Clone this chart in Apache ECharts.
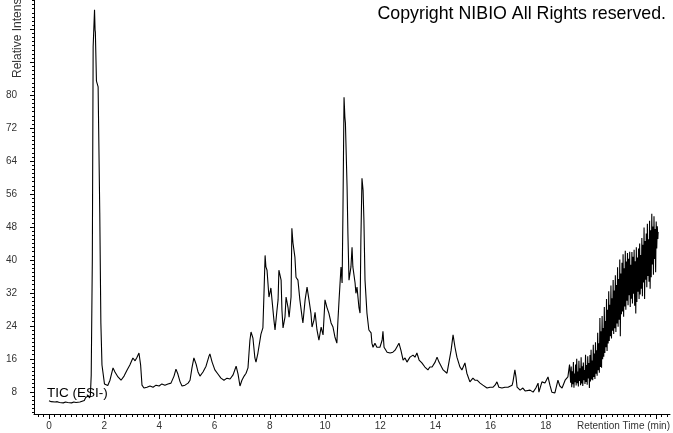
<!DOCTYPE html>
<html>
<head>
<meta charset="utf-8">
<script src="https://cdn.jsdelivr.net/npm/echarts@6/dist/echarts.min.js"></script>
<style>
html,body{margin:0;padding:0;background:#fff;}
#chart{width:673px;height:433px;}
</style>
</head>
<body>
<div id="chart"></div>
<script>
// Retention time (min)
const times = [
0.00,0.08,0.15,0.22,0.30,0.38,0.45,0.52,0.60,0.68,0.75,0.82,0.90,0.98,1.05,1.12,1.20,1.28,1.33,1.38,1.43,1.47,1.50,
1.53,1.57,1.60,1.65,1.67,1.68,1.72,1.78,1.80,1.84,1.88,1.92,2.01,2.13,2.21,2.32,2.39,2.50,2.61,2.72,2.83,2.93,3.04,3.12,3.19,3.26,3.32,3.37,
3.44,3.55,3.66,3.77,3.88,3.99,4.09,4.20,4.31,4.42,4.53,4.60,4.67,4.75,4.82,4.93,5.04,5.11,5.18,5.25,5.33,5.40,5.47,5.58,5.69,5.80,5.83,5.91,
6.01,6.12,6.23,6.34,6.45,6.56,6.67,6.78,6.85,6.92,6.99,7.07,7.14,7.21,7.25,7.28,7.32,7.39,7.46,7.50,7.57,7.68,7.75,7.79,7.83,7.86,7.90,7.97,
8.01,8.04,8.08,8.15,8.19,8.26,8.30,8.33,8.41,8.44,8.48,8.55,8.59,8.66,8.70,8.77,8.80,8.84,8.91,8.95,9.02,9.09,9.17,9.20,9.28,9.35,9.42,9.49,
9.53,9.60,9.64,9.71,9.78,9.86,9.93,10.00,10.07,10.14,10.22,10.29,10.36,10.43,10.47,10.51,10.58,10.62,10.65,10.69,10.72,10.74,10.80,10.83,10.87,
10.94,10.98,11.01,11.09,11.12,11.16,11.23,11.27,11.30,11.34,11.38,11.41,11.45,11.52,11.59,11.67,11.70,11.74,11.81,11.88,11.99,12.07,12.10,12.14,
12.25,12.36,12.46,12.54,12.61,12.68,12.75,12.83,12.90,12.97,13.08,13.19,13.26,13.33,13.41,13.51,13.62,13.73,13.80,13.88,13.99,14.06,14.13,14.17,
14.28,14.35,14.42,14.46,14.57,14.64,14.71,14.78,14.89,14.96,15.07,15.14,15.25,15.36,15.43,15.51,15.62,15.72,15.87,15.98,16.09,16.16,16.23,16.30,
16.41,16.52,16.63,16.78,16.81,16.88,16.92,16.96,17.07,17.17,17.25,17.32,17.43,17.54,17.64,17.72,17.75,17.86,17.97,18.08,18.15,18.22,18.33,18.44,
18.51,18.59,18.70,18.80,18.86,
18.90,18.92,18.94,18.96,18.98,19.00,19.02,19.04,19.06,19.08,19.10,19.12,19.14,19.16,19.18,19.20,19.22,19.24,19.26,19.28,19.30,19.32,19.34,19.36,
19.38,19.40,19.42,19.44,19.46,19.48,19.50,19.52,19.54,19.56,19.58,19.60,19.62,19.64,19.66,19.68,19.70,19.72,19.74,19.76,19.78,19.80,19.82,19.84,
19.86,19.88,19.90,19.92,19.94,19.96,19.98,20.00,20.02,20.04,20.06,20.08,20.10,20.12,20.14,20.16,20.18,20.20,20.22,20.24,20.26,20.28,20.30,20.32,
20.34,20.36,20.38,20.40,20.42,20.44,20.46,20.48,20.50,20.52,20.54,20.56,20.58,20.60,20.62,20.64,20.66,20.68,20.70,20.72,20.74,20.76,20.78,20.80,
20.82,20.84,20.86,20.88,20.90,20.92,20.94,20.96,20.98,21.00,21.02,21.04,21.06,21.08,21.10,21.12,21.14,21.16,21.18,21.20,21.22,21.24,21.26,21.28,
21.30,21.32,21.34,21.36,21.38,21.40,21.42,21.44,21.46,21.48,21.50,21.52,21.54,21.56,21.58,21.60,21.62,21.64,21.66,21.68,21.70,21.72,21.74,21.76,
21.78,21.80,21.82,21.84,21.86,21.88,21.90,21.92,21.94,21.96,21.98,22.00,22.02,22.04,22.06,22.07
];
// Relative intensity
const intensity = [
5.8,5.6,5.7,5.5,5.6,5.4,5.6,5.3,5.5,5.4,5.6,5.3,5.5,5.4,5.6,5.5,5.7,5.9,6.6,6.2,7.0,6.5,7.2,
12.0,40.0,91.7,100.7,95.8,95.3,83.4,82.0,71.8,51.4,24.6,14.5,9.9,9.5,10.8,13.8,12.8,11.6,10.8,11.8,13.3,14.5,16.2,15.5,16.4,17.4,14.5,9.6,
8.9,9.1,9.4,9.1,9.6,9.4,9.9,9.6,9.9,10.1,11.8,13.5,12.3,10.4,9.4,9.6,10.1,10.8,13.8,16.2,14.7,12.8,11.8,12.8,14.2,16.7,17.2,15.2,
13.3,12.3,11.3,10.8,11.3,11.1,12.1,14.2,12.3,9.4,10.8,11.8,12.5,13.8,17.7,20.5,22.5,21.0,16.2,15.2,17.4,22.0,23.5,31.9,41.1,38.3,37.5,31.0,
32.2,33.2,30.3,25.4,23.0,27.8,30.3,37.5,35.1,27.8,23.5,26.1,31.0,28.5,26.1,31.0,47.7,44.1,40.7,35.8,35.1,30.3,26.1,24.7,30.3,33.4,30.3,27.1,
23.7,25.4,27.3,23.0,20.5,23.7,21.8,30.3,28.5,27.1,24.7,23.7,21.3,19.8,25.4,30.3,38.3,34.4,51.4,79.5,74.7,73.2,57.7,46.5,35.1,
38.3,43.1,38.3,34.4,31.9,33.4,28.5,27.1,44.8,59.8,56.9,49.7,35.1,27.1,23.0,22.3,19.8,18.8,19.8,18.8,18.8,20.5,22.7,18.8,
17.6,17.4,17.6,18.1,17.9,19.8,18.1,15.7,16.2,15.2,16.4,16.9,16.4,17.4,15.7,15.0,14.0,13.3,14.0,14.0,15.2,16.4,15.2,15.0,
13.3,13.0,12.5,14.0,18.1,21.8,18.8,16.4,14.0,13.3,15.0,12.5,10.4,11.3,10.8,10.8,10.1,9.6,8.9,9.1,9.1,9.6,10.4,9.1,
8.9,9.1,9.1,9.6,10.4,13.3,11.6,9.1,8.4,8.9,8.2,8.4,8.4,7.9,8.9,10.1,7.9,10.4,10.1,11.6,9.6,7.9,7.7,10.8,
9.4,8.9,10.8,11.6,14.6,
10.2,14.1,9.1,13.0,9.8,15.2,9.0,12.4,10.3,14.6,9.5,16.0,10.1,12.9,9.3,15.5,10.6,13.7,9.6,16.4,10.0,14.2,9.4,15.1,
10.8,13.3,9.9,17.0,10.4,14.5,9.7,16.6,11.2,15.0,8.9,16.9,10.5,18.2,11.0,15.6,10.8,19.4,11.6,17.3,11.1,20.0,12.4,18.1,
11.9,22.3,13.2,19.8,12.6,25.9,14.0,22.7,13.8,26.4,15.9,23.5,16.5,28.6,17.4,25.2,18.8,30.5,17.9,27.9,19.7,32.4,20.3,29.1,
21.5,33.8,20.9,30.7,22.8,35.1,22.0,32.6,23.4,36.3,22.5,33.9,24.6,38.2,23.8,35.4,25.5,40.1,21.5,36.7,26.8,39.3,27.5,41.4,
26.2,38.0,28.7,42.2,27.9,39.6,30.1,41.7,29.0,40.3,31.4,42.0,28.6,38.8,30.6,41.9,29.4,40.8,31.8,42.5,28.9,39.7,27.0,43.1,
29.8,40.6,32.3,42.8,30.5,44.0,31.6,41.2,33.0,45.3,31.2,43.7,34.5,47.9,30.5,44.6,35.2,46.4,33.4,48.8,36.1,45.0,34.7,49.5,
33.0,47.2,35.8,51.2,38.9,48.1,36.4,50.6,40.2,47.5,37.0,49.3,42.8,48.2,45.1,46.8
];
// Tick labels
const xTickLabels = [0,2,4,6,8,10,12,14,16,18];
const yTickLabels = [8,16,24,32,40,48,56,64,72,80];

const X_MIN = -0.543, X_MAX = 22.5, Y_MIN = 2.6, Y_MAX = 103.1;
const seriesData = times.map((t, i) => [t, intensity[i]]);

const xMajor = [], xMinor = [], yMajor = [], yMinor = [];
for (let v = 0; v <= 22; v += 2) xMajor.push(v);
for (let k = -2; k <= 112; k++) xMinor.push(+(k * 0.2).toFixed(2));
for (let v = 8; v <= 96; v += 8) yMajor.push(v);
for (let v = 3; v <= 103; v++) yMinor.push(v);

const FONT = '"Liberation Sans", Arial, sans-serif';
const chart = echarts.init(document.getElementById('chart'), null, {renderer: 'canvas'});
chart.setOption({
  animation: false,
  backgroundColor: '#fff',
  grid: {left: 34, right: 3, top: 0, bottom: 19, containLabel: false},
  xAxis: [{
    type: 'value', min: X_MIN, max: X_MAX, position: 'bottom',
    axisLine: {show: true, onZero: false, lineStyle: {color: '#000', width: 1}},
    axisTick: {show: true, length: 5, customValues: xMajor, lineStyle: {color: '#000'}},
    axisLabel: {show: true, customValues: xTickLabels, margin: 7, color: '#333', fontSize: 10, fontFamily: FONT},
    splitLine: {show: false}
  }, {
    type: 'value', min: X_MIN, max: X_MAX, position: 'bottom',
    axisLine: {show: false, onZero: false},
    axisTick: {show: true, length: 3, customValues: xMinor, lineStyle: {color: '#000'}},
    axisLabel: {show: false},
    splitLine: {show: false}
  }],
  yAxis: [{
    type: 'value', min: Y_MIN, max: Y_MAX, position: 'left',
    axisLine: {show: true, onZero: false, lineStyle: {color: '#000', width: 1}},
    axisTick: {show: true, length: 4, customValues: yMajor, lineStyle: {color: '#000'}},
    axisLabel: {show: true, customValues: yTickLabels, margin: 17, color: '#333', fontSize: 10, fontFamily: FONT},
    splitLine: {show: false}
  }, {
    type: 'value', min: Y_MIN, max: Y_MAX, position: 'left',
    axisLine: {show: false, onZero: false},
    axisTick: {show: true, length: 2, customValues: yMinor, lineStyle: {color: '#000'}},
    axisLabel: {show: false},
    splitLine: {show: false}
  }],
  series: [{
    type: 'line', xAxisIndex: 0, yAxisIndex: 0,
    data: seriesData, showSymbol: false, symbol: 'none', smooth: false, sampling: null,
    lineStyle: {color: '#000', width: 1.1}, clip: true
  }],
  graphic: [
    {type: 'text', right: 7, top: 5, style: {text: 'Copyright NIBIO All Rights reserved.', fill: '#000', font: '17.8px ' + FONT}},
    {type: 'text', left: 47, top: 386, style: {text: 'TIC (ESI-)', fill: '#000', font: '13.5px ' + FONT}},
    {type: 'text', left: 577, top: 421, style: {text: 'Retention Time (min)', fill: '#333', font: '10px ' + FONT}},
    {type: 'text', x: 24, y: 78, rotation: Math.PI / 2, style: {text: 'Relative Intensity', fill: '#333', font: '12px ' + FONT, align: 'left', verticalAlign: 'bottom'}}
  ]
});
</script>
</body>
</html>
